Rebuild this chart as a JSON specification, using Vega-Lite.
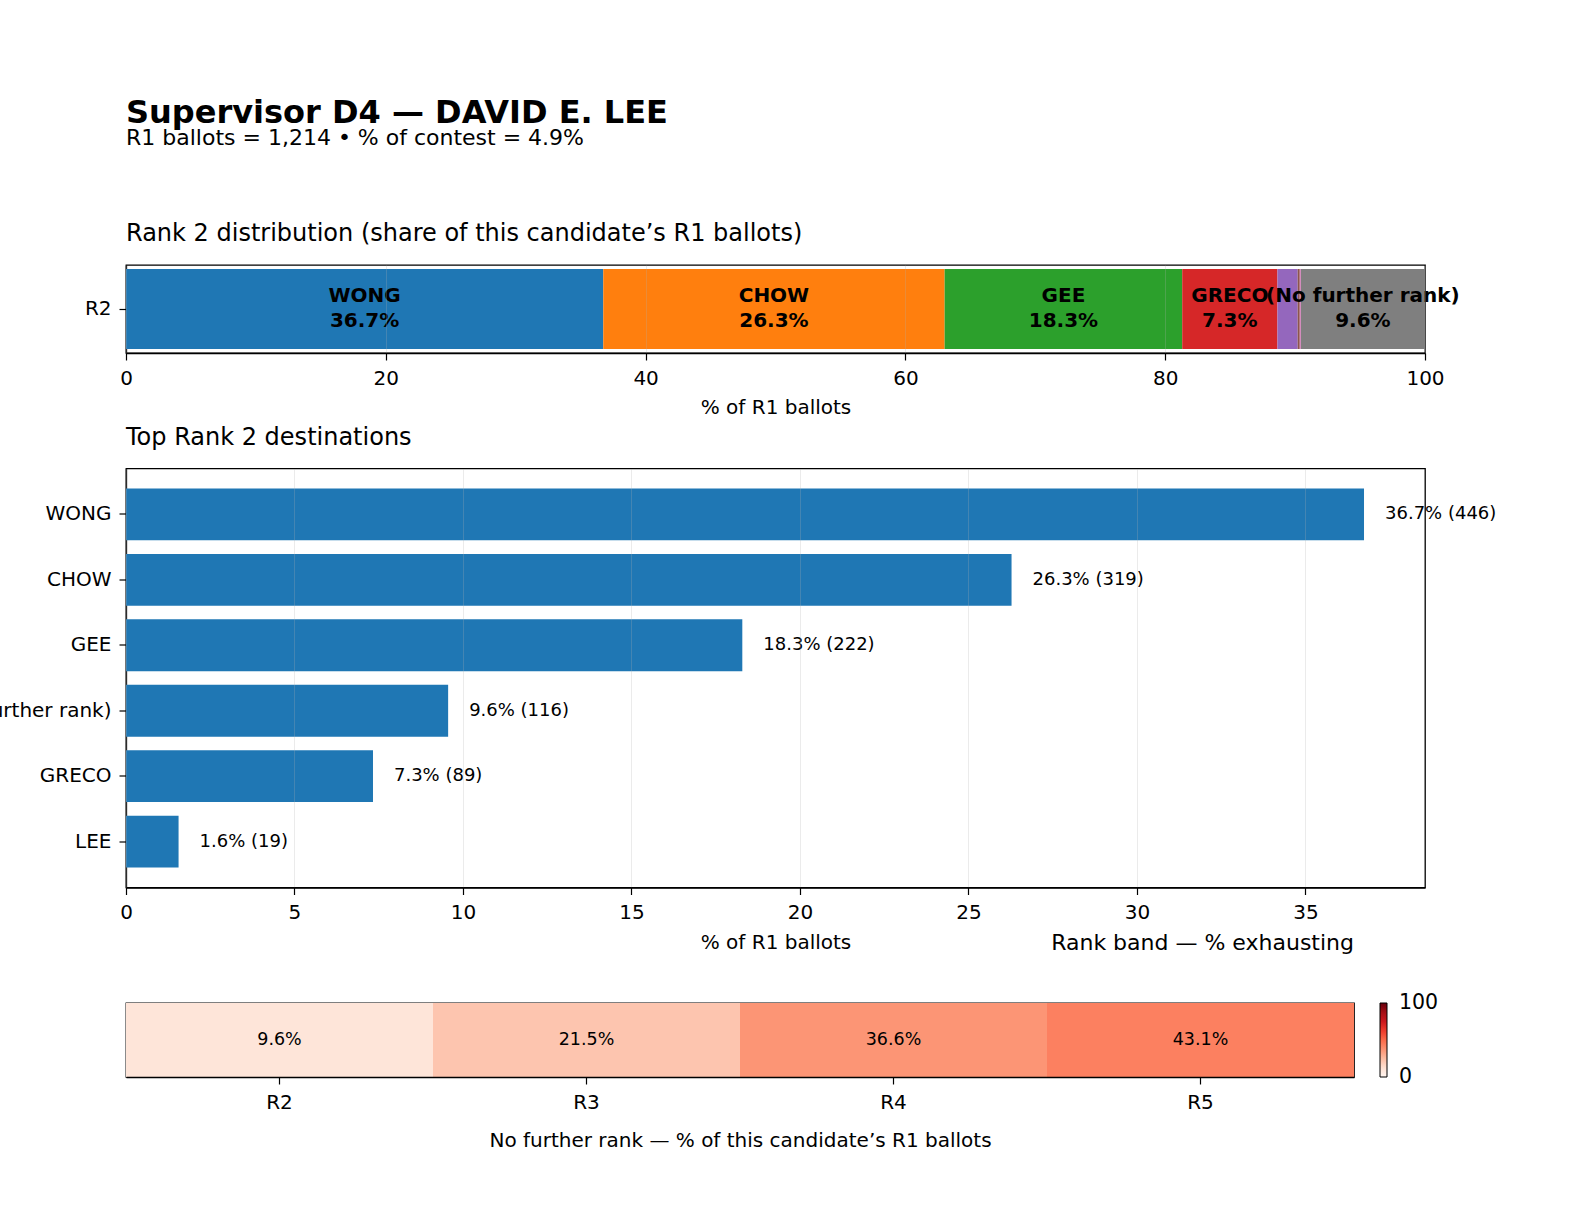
{
  "$schema": "https://vega.github.io/schema/vega-lite/v6.json",
  "background": "white",
  "padding": {"left": -59, "top": 97, "right": 20, "bottom": 20},
  "title": {
    "text": "Supervisor D4 — DAVID E. LEE",
    "subtitle": "R1 ballots = 1,214 • % of contest = 4.9%",
    "anchor": "start",
    "frame": "group",
    "fontSize": 32,
    "fontWeight": "bold",
    "subtitleFontSize": 22,
    "subtitleFont": "DejaVu Sans",
    "subtitleColor": "black",
    "subtitlePadding": -2,
    "offset": 71
  },
  "bounds": "flush",
  "spacing": 115.5,
  "resolve": {
    "scale": {"color": "independent", "x": "independent", "y": "independent"},
    "legend": {"color": "independent"}
  },
  "vconcat": [
    {
      "width": 1299,
      "height": 88,
      "title": {"text": "Rank 2 distribution (share of this candidate’s R1 ballots)", "fontSize": 24, "offset": 19},
      "data": {
        "values": [
          {"ord": 1, "rank": "R2", "name": "WONG", "pct": 36.74, "plabel": "36.7%"},
          {"ord": 2, "rank": "R2", "name": "CHOW", "pct": 26.28, "plabel": "26.3%"},
          {"ord": 3, "rank": "R2", "name": "GEE", "pct": 18.29, "plabel": "18.3%"},
          {"ord": 4, "rank": "R2", "name": "GRECO", "pct": 7.33, "plabel": "7.3%"},
          {"ord": 5, "rank": "R2", "name": "LEE", "pct": 1.56, "plabel": "1.6%"},
          {"ord": 6, "rank": "R2", "name": "Other (2)", "pct": 0.16, "plabel": "0.2%"},
          {"ord": 7, "rank": "R2", "name": "Other (1)", "pct": 0.08, "plabel": "0.1%"},
          {"ord": 8, "rank": "R2", "name": "(No further rank)", "pct": 9.56, "plabel": "9.6%"}
        ]
      },
      "transform": [
        {"stack": "pct", "groupby": ["rank"], "sort": [{"field": "ord", "order": "ascending"}], "as": ["x0", "x1"]}
      ],
      "layer": [
        {
          "mark": {"type": "bar"},
          "encoding": {
            "x": {
              "field": "x0", "type": "quantitative", "title": "% of R1 ballots",
              "scale": {"domain": [0, 100], "nice": false},
              "axis": {"values": [0, 20, 40, 60, 80, 100], "grid": true, "gridColor": "#b0b0b0", "gridOpacity": 0.25, "zindex": 1, "titlePadding": 9}
            },
            "x2": {"field": "x1"},
            "y": {
              "field": "rank", "type": "nominal", "title": null,
              "scale": {"paddingInner": 0, "paddingOuter": 0.05}
            },
            "color": {
              "field": "name", "type": "nominal", "legend": null,
              "scale": {
                "domain": ["WONG", "CHOW", "GEE", "GRECO", "LEE", "Other (2)", "Other (1)", "(No further rank)"],
                "range": ["#1f77b4", "#ff7f0e", "#2ca02c", "#d62728", "#9467bd", "#8c564b", "#e377c2", "#7f7f7f"]
              }
            }
          }
        },
        {
          "transform": [
            {"filter": {"field": "pct", "gte": 5}},
            {"fold": ["x0", "x1"], "as": ["edge", "pos"]}
          ],
          "layer": [
            {
              "mark": {"type": "text", "fontSize": 20, "fontWeight": "bold", "baseline": "alphabetic", "dy": -7},
              "encoding": {
                "x": {"aggregate": "mean", "field": "pos", "type": "quantitative", "title": "% of R1 ballots"},
                "y": {"field": "rank", "type": "nominal", "title": null},
                "text": {"field": "name"},
                "detail": {"field": "plabel"}
              }
            },
            {
              "mark": {"type": "text", "fontSize": 20, "fontWeight": "bold", "baseline": "alphabetic", "dy": 18},
              "encoding": {
                "x": {"aggregate": "mean", "field": "pos", "type": "quantitative", "title": "% of R1 ballots"},
                "y": {"field": "rank", "type": "nominal", "title": null},
                "text": {"field": "plabel"},
                "detail": {"field": "name"}
              }
            }
          ]
        }
      ]
    },
    {
      "width": 1299,
      "height": 419,
      "title": {"text": "Top Rank 2 destinations", "fontSize": 24, "offset": 19},
      "data": {
        "values": [
          {"name": "WONG", "pct": 36.74, "count": 446, "label": "36.7% (446)"},
          {"name": "CHOW", "pct": 26.28, "count": 319, "label": "26.3% (319)"},
          {"name": "GEE", "pct": 18.29, "count": 222, "label": "18.3% (222)"},
          {"name": "(No further rank)", "pct": 9.56, "count": 116, "label": "9.6% (116)"},
          {"name": "GRECO", "pct": 7.33, "count": 89, "label": "7.3% (89)"},
          {"name": "LEE", "pct": 1.56, "count": 19, "label": "1.6% (19)"}
        ]
      },
      "layer": [
        {
          "mark": {"type": "bar", "color": "#1f77b4"},
          "encoding": {
            "x": {
              "field": "pct", "type": "quantitative", "title": "% of R1 ballots",
              "scale": {"domain": [0, 38.55], "nice": false},
              "axis": {"values": [0, 5, 10, 15, 20, 25, 30, 35], "grid": true, "gridColor": "#b0b0b0", "gridOpacity": 0.25, "zindex": 1, "titlePadding": 10}
            },
            "y": {
              "field": "name", "type": "nominal", "title": null,
              "sort": ["WONG", "CHOW", "GEE", "(No further rank)", "GRECO", "LEE"],
              "scale": {"paddingInner": 0.207, "paddingOuter": 0.305}
            }
          }
        },
        {
          "mark": {"type": "text", "align": "left", "baseline": "middle", "dx": 21, "fontSize": 18},
          "encoding": {
            "x": {"field": "pct", "type": "quantitative", "title": "% of R1 ballots"},
            "y": {"field": "name", "type": "nominal", "title": null, "sort": ["WONG", "CHOW", "GEE", "(No further rank)", "GRECO", "LEE"]},
            "text": {"field": "label"}
          }
        }
      ]
    },
    {
      "width": 1228,
      "height": 74,
      "title": {"text": "Rank band — % exhausting", "fontSize": 22, "anchor": "end", "offset": 48},
      "data": {
        "values": [
          {"band": "R2", "pct": 9.6, "plabel": "9.6%"},
          {"band": "R3", "pct": 21.5, "plabel": "21.5%"},
          {"band": "R4", "pct": 36.6, "plabel": "36.6%"},
          {"band": "R5", "pct": 43.1, "plabel": "43.1%"}
        ]
      },
      "layer": [
        {
          "mark": {"type": "rect"},
          "encoding": {
            "x": {
              "field": "band", "type": "nominal", "title": "No further rank — % of this candidate’s R1 ballots",
              "scale": {"paddingInner": 0, "paddingOuter": 0},
              "axis": {"labelAngle": 0, "titlePadding": 18}
            },
            "color": {
              "field": "pct", "type": "quantitative",
              "scale": {
                "type": "linear",
                "domain": [-0.05, 12.5, 25, 37.5, 50, 62.5, 75, 87.5, 100.05],
                "range": ["#fff5f0", "#fee0d2", "#fcbba1", "#fc9272", "#fb6a4a", "#ef3b2c", "#cb181d", "#a50f15", "#67000d"],
                "interpolate": "rgb",
                "nice": false
              },
              "legend": {
                "title": null, "orient": "none", "legendX": 1254, "legendY": 0, "padding": 0,
                "direction": "vertical", "gradientLength": 74, "gradientThickness": 7,
                "gradientStrokeColor": "black", "gradientStrokeWidth": 1,
                "values": [0, 100], "labelFontSize": 20.5, "labelFont": "DejaVu Sans", "labelColor": "black",
                "labelOffset": 12, "labelBaseline": "middle"
              }
            }
          }
        },
        {
          "mark": {"type": "text", "fontSize": 17.5, "baseline": "middle"},
          "encoding": {
            "x": {"field": "band", "type": "nominal", "title": "No further rank — % of this candidate’s R1 ballots"},
            "text": {"field": "plabel"}
          }
        }
      ]
    }
  ],
  "config": {
    "font": "DejaVu Sans",
    "view": {"stroke": "black", "strokeWidth": 1.3},
    "axis": {
      "labelFont": "DejaVu Sans", "labelFontSize": 20, "labelColor": "black",
      "titleFont": "DejaVu Sans", "titleFontSize": 20, "titleFontWeight": "normal", "titleColor": "black",
      "tickColor": "black", "tickSize": 7, "tickWidth": 1.2,
      "domain": true, "domainColor": "black", "domainWidth": 1.3,
      "labelPadding": 8, "labelFlush": false, "grid": false
    },
    "title": {"font": "DejaVu Sans", "color": "black", "fontWeight": "normal", "anchor": "start", "frame": "group"},
    "text": {"font": "DejaVu Sans", "color": "black"}
  }
}
